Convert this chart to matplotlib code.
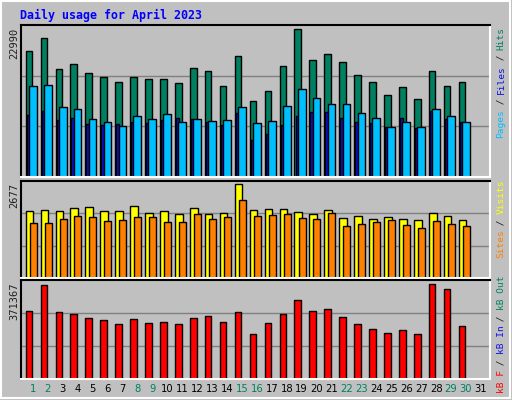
import numpy as np
import matplotlib
matplotlib.use("Agg")
import matplotlib.pyplot as plt

days = list(range(1, 32))
weekend = [1, 2, 8, 9, 15, 16, 22, 23, 29, 30]

# values (day 31 has no data yet)
hits = [19057, 21024, 16335, 17091, 15730, 15125, 14369, 15125, 14823, 14823,
        14217, 16486, 16032, 13764, 18301, 11495, 13007, 16789, 22385, 17696,
        18604, 17394, 15428, 14369, 12403, 13613, 11798, 16032, 13764, 14369, 0]
files = [13764, 13915, 10588, 10285, 8773, 8319, 7714, 9226, 8773, 9529,
         8319, 8773, 8470, 8621, 10588, 8168, 8470, 10739, 13310, 11949,
         11041, 11041, 9680, 8924, 7563, 8319, 7563, 10285, 9226, 8319, 0]
pages = [9378, 9982, 8621, 8924, 8017, 7865, 8017, 8319, 8168, 8621,
         8924, 8773, 8319, 7865, 9680, 5596, 6504, 7865, 9226, 9831,
         9831, 8924, 8319, 8168, 7563, 8924, 7411, 9982, 8773, 8319, 0]
visits = [1849, 1877, 1849, 1932, 1960, 1849, 1849, 1987, 1794, 1849,
          1766, 1932, 1766, 1794, 2594, 1877, 1904, 1904, 1822, 1766,
          1877, 1656, 1711, 1628, 1684, 1628, 1601, 1794, 1711, 1601, 0]
sites = [1518, 1518, 1628, 1711, 1684, 1573, 1601, 1684, 1684, 1546,
         1546, 1766, 1628, 1684, 2153, 1711, 1739, 1766, 1656, 1628,
         1794, 1435, 1490, 1546, 1601, 1463, 1380, 1573, 1490, 1435, 0]
kbytes = [253900, 351400, 250200, 242600, 227600, 220100, 205100, 223900, 208900, 212600,
          205100, 227600, 235100, 212600, 250200, 167600, 208900, 242600, 295100, 253900,
          261400, 231400, 205100, 186400, 171400, 182600, 167600, 355200, 336500, 197700, 0]

max_hits = 22990
max_visits = 2677
max_kb = 371367

GRAY = "#c0c0c0"
mono = "DejaVu Sans Mono"

fig = plt.figure(figsize=(5.12, 4.0), dpi=100, facecolor=GRAY)
x = np.array(days)

def panel(rect, ymax):
    ax = fig.add_axes(rect, facecolor=GRAY)
    ax.set_xlim(0.2, 31.6)
    ax.set_ylim(0, ymax)
    for g in (ymax / 3, 2 * ymax / 3):
        ax.axhline(g, color="#808080", lw=1, zorder=0)
    ax.set_xticks([])
    ax.set_yticks([])
    ax.spines["top"].set_color("black")
    ax.spines["left"].set_color("black")
    ax.spines["right"].set_color("white")
    ax.spines["bottom"].set_color("white")
    for s in ax.spines.values():
        s.set_linewidth(1.5)
    return ax

def bars(ax, left, width, vals, color):
    v = np.array(vals)
    m = v > 0
    ax.bar(x[m] + left, v[m], width=width, align="edge", color=color,
           edgecolor="black", linewidth=1, zorder=2)

ax1 = panel([21 / 512, 1 - 177 / 400, 469 / 512, 152 / 400], max_hits)
bars(ax1, -0.49, 0.44, hits, "#008060")
bars(ax1, -0.42, 0.2, pages, "#1010e8")
bars(ax1, -0.27, 0.52, files, "#00bfff")

ax2 = panel([21 / 512, 1 - 278 / 400, 469 / 512, 97 / 400], max_visits)
bars(ax2, -0.49, 0.51, visits, "#ffff00")
bars(ax2, -0.22, 0.47, sites, "#ff8000")

ax3 = panel([21 / 512, 1 - 379 / 400, 469 / 512, 99 / 400], max_kb)
bars(ax3, -0.49, 0.44, kbytes, "#ff0000")

fig.text(20 / 512, 1 - 15 / 400, "Daily usage for April 2023", color="#0000ff",
         family=mono, weight="bold", fontsize=8.4, va="center", ha="left")

for yp, lab in [(28, str(max_hits)), (183, str(max_visits)), (283, str(max_kb))]:
    fig.text(14 / 512, 1 - yp / 400, lab, rotation=90, family=mono,
             fontsize=7.5, ha="center", va="top", color="#202020")

# right-side legends, rotated and multicoloured, reading bottom to top
def side_label(parts, y_bottom):
    y = y_bottom
    for txt, col in parts:
        fig.text(501 / 512, 1 - y / 400, txt, rotation=90, family=mono,
                 fontsize=6.8, color=col, ha="center", va="bottom")
        y -= len(txt) * 5.5

side_label([("Pages", "#00bfff"), (" / ", "#202020"), ("Files", "#1010e8"),
            (" / ", "#202020"), ("Hits", "#008060")], 138)
side_label([("Sites", "#ff8000"), (" / ", "#202020"), ("Visits", "#ffff00")], 258)
side_label([("kB F", "#ff0000"), (" / ", "#202020"), ("kB In", "#1010e8"),
            (" / ", "#202020"), ("kB Out", "#008060")], 393)

for d in days:
    xp = (33 + (d - 1) * 14.93) / 512
    fig.text(xp, 1 - 389 / 400, str(d), ha="center", va="center", fontsize=7.2,
             color="#008060" if d in weekend else "black")

# outer frame
fig.add_artist(plt.Rectangle((0.002, 0.004), 0.994, 0.993, transform=fig.transFigure,
                             fill=False, edgecolor="white", lw=1.5))

fig.savefig("out.png", dpi=100, facecolor=GRAY)
